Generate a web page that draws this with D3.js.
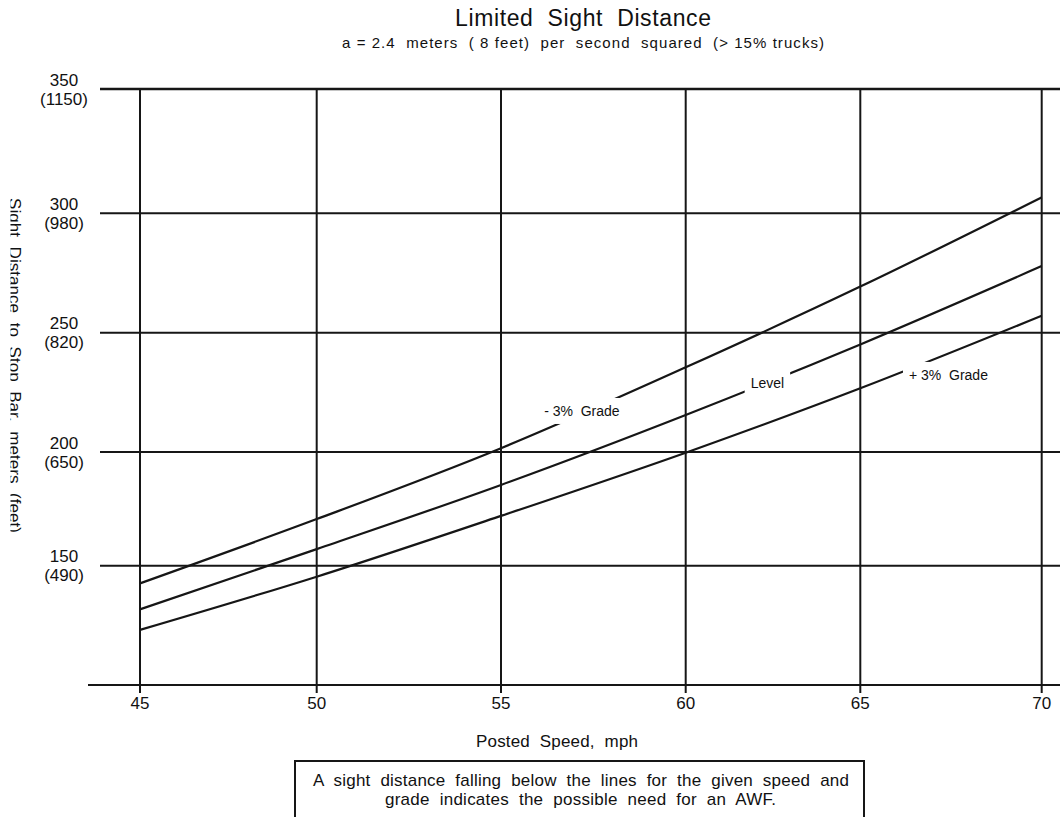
<!DOCTYPE html>
<html>
<head>
<meta charset="utf-8">
<script src="https://cdn.jsdelivr.net/npm/d3@7"></script>
<style>
  html, body { margin: 0; padding: 0; background: #fff; }
  svg text { font-family: "Liberation Sans", Arial, sans-serif; fill: #111; white-space: pre; }
</style>
</head>
<body>
<svg id="chart" width="1060" height="817"></svg>
<script>
// ---- data ----
const speeds = [45, 50, 55, 60, 65, 70];
const minus3Grade = [142.6, 170.5, 201.6, 235.5, 269.3, 306.4];
const levelGrade = [131.7, 157.3, 185.5, 215.5, 245.1, 277.9];
const plus3Grade = [123.1, 145.4, 171.9, 199.7, 226.7, 257.1];
const seriesNames = ["- 3%  Grade", "Level", "+ 3%  Grade"];
const labelSpeed = [57.19, 62.34, 67.43];
const labelDist = [215.1, 226.8, 230.2];
const xTicks = [45, 50, 55, 60, 65, 70];
const yTicks = [150, 200, 250, 300, 350];
const yTickFeet = ["(490)", "(650)", "(820)", "(980)", "(1150)"];
const yBase = 100;
const titleText = "Limited  Sight  Distance";
const subtitleText = "a = 2.4  meters  ( 8 feet)  per  second  squared  (> 15% trucks)";
const xLabel = "Posted  Speed,  mph";
const yLabel = "Sight  Distance  to  Stop  Bar,  meters  (feet)";
const noteLines = ["A  sight  distance  falling  below  the  lines  for  the  given  speed  and",
                   "grade  indicates  the  possible  need  for  an  AWF."];

const svg = d3.select("#chart");
const ink = "#161616";

const x = d3.scaleLinear().domain(xTicks).range([140, 316.7, 501, 685.7, 860.3, 1041.7]);
const y = d3.scaleLinear()
  .domain([yBase, 150, 200, 250, 300, 350])
  .range([685, 565.7, 452, 332.7, 213.3, 89]);

// title
svg.append("text").attr("x", 583).attr("y", 26).attr("text-anchor", "middle")
  .attr("font-size", 23).attr("textLength", 256).attr("lengthAdjust", "spacing").text(titleText);
svg.append("text").attr("x", 583).attr("y", 48).attr("text-anchor", "middle")
  .attr("font-size", 15).attr("textLength", 482).attr("lengthAdjust", "spacing").text(subtitleText);

// horizontal gridlines
const g = svg.append("g");
g.selectAll("line.h").data(yTicks).join("line").attr("class", "h")
  .attr("x1", 100).attr("x2", 1060)
  .attr("y1", d => y(d)).attr("y2", d => y(d))
  .attr("stroke", ink).attr("stroke-width", d => d === 350 ? 2.6 : 2);
// bottom axis line
g.append("line").attr("x1", 88).attr("x2", 1060).attr("y1", y(yBase)).attr("y2", y(yBase))
  .attr("stroke", ink).attr("stroke-width", 2);
// vertical gridlines
g.selectAll("line.v").data(xTicks).join("line").attr("class", "v")
  .attr("x1", d => x(d)).attr("x2", d => x(d))
  .attr("y1", y(350)).attr("y2", y(yBase) + 8)
  .attr("stroke", ink).attr("stroke-width", 2);

// x tick labels
svg.selectAll("text.xt").data(xTicks).join("text").attr("class", "xt")
  .attr("x", d => x(d)).attr("y", 709).attr("text-anchor", "middle")
  .attr("font-size", 17).text(d => d);

// y tick labels
svg.selectAll("text.yt").data(yTicks).join("text").attr("class", "yt")
  .attr("x", 64).attr("y", d => y(d) - 3.5).attr("text-anchor", "middle")
  .attr("font-size", 17).text(d => d);
svg.selectAll("text.yf").data(yTicks).join("text").attr("class", "yf")
  .attr("x", 64).attr("y", d => y(d) + 15.5).attr("text-anchor", "middle")
  .attr("font-size", 17).text((d, i) => yTickFeet[i]);

// y axis label (clipped at left like the reference)
svg.append("clipPath").attr("id", "ylabclip").append("rect")
  .attr("x", 10.5).attr("y", 150).attr("width", 30).attr("height", 450);
svg.append("g").attr("clip-path", "url(#ylabclip)")
  .append("text").attr("transform", "translate(8.5,365.5) rotate(90)")
  .attr("text-anchor", "middle").attr("font-size", 17)
  .attr("textLength", 335).attr("lengthAdjust", "spacing").text(yLabel);

// x axis label
svg.append("text").attr("x", 557).attr("y", 747).attr("text-anchor", "middle")
  .attr("font-size", 17).attr("textLength", 162).attr("lengthAdjust", "spacing").text(xLabel);

// data lines
const series = [minus3Grade, levelGrade, plus3Grade];
const line = d3.line().x((d, i) => x(speeds[i])).y(d => y(d)).curve(d3.curveMonotoneX);
svg.append("g").selectAll("path").data(series).join("path")
  .attr("d", line).attr("fill", "none").attr("stroke", ink).attr("stroke-width", 2.2);

// series labels with white knockout
const lab = svg.append("g");
seriesNames.forEach((name, i) => {
  const grp = lab.append("g");
  const t = grp.append("text").attr("x", x(labelSpeed[i])).attr("y", y(labelDist[i]))
    .attr("text-anchor", "middle").attr("font-size", 14).text(name);
  const bb = t.node().getBBox();
  grp.insert("rect", "text").attr("x", bb.x - 6).attr("y", bb.y - 5)
    .attr("width", bb.width + 12).attr("height", bb.height + 10).attr("fill", "#fff");
});

// note box
svg.append("rect").attr("x", 295).attr("y", 761).attr("width", 569).attr("height", 80)
  .attr("fill", "none").attr("stroke", ink).attr("stroke-width", 2);
svg.append("text").attr("x", 581).attr("y", 786).attr("text-anchor", "middle")
  .attr("font-size", 17).attr("textLength", 536).attr("lengthAdjust", "spacing").text(noteLines[0]);
svg.append("text").attr("x", 580.5).attr("y", 805).attr("text-anchor", "middle")
  .attr("font-size", 17).attr("textLength", 391).attr("lengthAdjust", "spacing").text(noteLines[1]);
</script>
</body>
</html>
